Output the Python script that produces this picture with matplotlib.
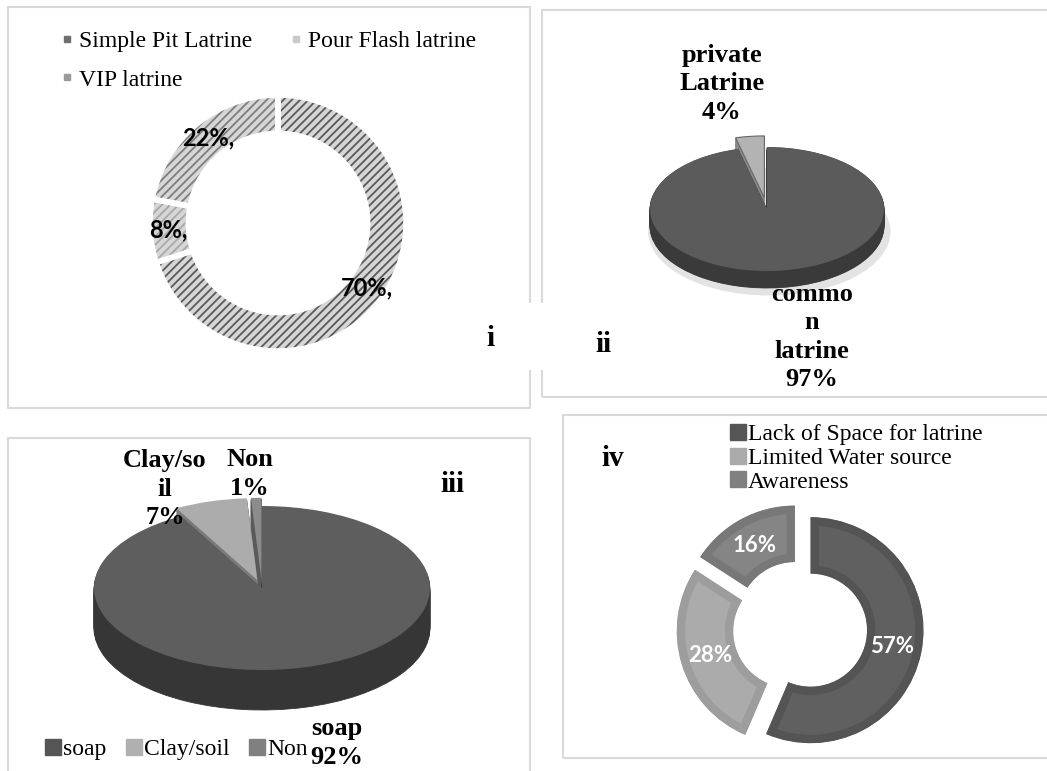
import matplotlib.pyplot as plt
from matplotlib.lines import Line2D
from matplotlib.patches import Rectangle, Ellipse

# survey results, one list per chart
latrine_types = ["Simple Pit Latrine", "Pour Flash latrine", "VIP latrine"]
latrine_share = [70, 8, 22]

ownership_types = ["commo\nn\nlatrine", "private\nLatrine"]
ownership_share = [97, 4]

handwash_types = ["soap", "Clay/soil", "Non"]
handwash_wrapped = ["soap", "Clay/so\nil", "Non"]
handwash_share = [92, 7, 1]

barrier_types = ["Lack of Space for latrine", "Limited Water source", "Awareness"]
barrier_share = [57, 28, 16]

SERIF = "Liberation Serif"
SANS = "Lato"
W, H = 1047, 771

plt.rcParams["hatch.linewidth"] = 1.3

fig = plt.figure(figsize=(W / 100, H / 100), dpi=100)


def fx(px):
    return px / W


def fy(py):
    return 1 - py / H


def pie_axes(cx, cy, rx, ry, hw, hh):
    ax = fig.add_axes([fx(cx - hw), fy(cy + hh), 2 * hw / W, 2 * hh / H])
    ax.axis("off")
    return ax


def fix_limits(ax, rx, ry, hw, hh):
    ax.set_aspect("auto")
    ax.set_xlim(-hw / rx, hw / rx)
    ax.set_ylim(-hh / ry, hh / ry)


def pct_of(values):
    total = sum(values)
    return lambda p: f"{round(p * total / 100)}%"


def panel_box(x0, y0, x1, y1):
    fig.add_artist(Rectangle((fx(x0), fy(y1)), fx(x1) - fx(x0), fy(y0) - fy(y1),
                             transform=fig.transFigure, fill=False,
                             edgecolor="#d9d9d9", linewidth=1.5, zorder=0))


def square(color, size):
    return Line2D([], [], marker="s", linestyle="none", markersize=size,
                  markerfacecolor=color, markeredgecolor=color)


def bold_label(x, y, text):
    fig.text(fx(x), fy(y), text, ha="center", va="center", family=SERIF,
             fontweight="bold", fontsize=19, linespacing=1.3)


def pie3d(ax, values, top_colors, side_colors, explode, thick, layers=24):
    kw = dict(startangle=90, counterclock=False, explode=explode)
    for k in range(layers, 0, -1):
        ax.pie(values, colors=side_colors, center=(0, -thick * k / layers),
               wedgeprops=dict(linewidth=0.6), **kw)
        for w in ax.patches[-len(values):]:
            w.set_edgecolor(w.get_facecolor())
    wedges, _ = ax.pie(values, colors=top_colors, wedgeprops=dict(linewidth=0), **kw)
    return wedges


# panel borders
panel_box(8, 7, 530, 408)
panel_box(542, 10, 1060, 397)
panel_box(8, 438, 530, 800)
panel_box(563, 415, 1060, 758)
fig.add_artist(Rectangle((fx(470), fy(370)), fx(625) - fx(470), fy(303) - fy(370),
                         transform=fig.transFigure, facecolor="white",
                         edgecolor="none", zorder=1))

# ---- i: latrine type donut ----
geo = (278, 223, 128, 128, 150, 140)
ax1 = pie_axes(*geo)
kw = dict(startangle=90, counterclock=False)
_, _, autotexts = ax1.pie(latrine_share, colors=["#d6d6d6"] * 3,
                          wedgeprops=dict(width=0.3, linewidth=0),
                          autopct=lambda p: pct_of(latrine_share)(p) + ",",
                          pctdistance=0.86,
                          textprops=dict(family=SANS, fontweight="bold", fontsize=17),
                          **kw)
hatched, _ = ax1.pie(latrine_share, colors=["none"] * 3,
                     wedgeprops=dict(width=0.3, linewidth=0), **kw)
for w, c in zip(hatched, ["#5a5a5a", "#a8a8a8", "#7e7e7e"]):
    w.set_hatch("////")
    w.set_edgecolor(c)
ax1.pie(latrine_share, colors=["none"] * 3,
        wedgeprops=dict(width=0.3, linewidth=4, edgecolor="white"), **kw)
for t in autotexts:
    t.set_zorder(5)
fix_limits(ax1, *geo[2:])

marker_cols = ["#6e6e6e", "#c9c9c9", "#9a9a9a"]
h1 = [square(c, 5) for c in marker_cols]
order = [0, 2, 1]
fig.legend([h1[i] for i in order], [latrine_types[i] for i in order],
           loc="upper left", bbox_to_anchor=(fx(52), fy(21)), ncol=2,
           frameon=False, prop=dict(family=SERIF, size=17),
           handlelength=0.5, handletextpad=0.25, columnspacing=1.6,
           labelspacing=0.72, borderaxespad=0)

# ---- ii: latrine ownership 3D pie ----
geo = (767, 209, 117, 62, 140, 110)
ax2 = pie_axes(*geo)
thick2 = 17 / 62
ax2.add_patch(Ellipse((0.02, -thick2 - 0.09), 2.06, 2.04, color="#e3e3e3", zorder=0))
top2 = pie3d(ax2, ownership_share, ["#5b5b5b", "#b3b3b3"], ["#3a3a3a", "#8a8a8a"],
             [0, 0.18], thick2)
top2[1].set_edgecolor("#666666")
top2[1].set_linewidth(0.8)
fix_limits(ax2, *geo[2:])

bold_label(722, 84, f"{ownership_types[1]}\n{ownership_share[1]}%")
bold_label(812, 337, f"{ownership_types[0]}\n{ownership_share[0]}%")

# ---- iii: hand washing 3D pie ----
geo = (262, 588, 168, 82, 205, 150)
ax3 = pie_axes(*geo)
pie3d(ax3, handwash_share, ["#5e5e5e", "#acacac", "#8c8c8c"],
      ["#363636", "#7a7a7a", "#5a5a5a"], [0, 0.1, 0.1], 40 / 82)
fix_limits(ax3, *geo[2:])

bold_label(165, 489, f"{handwash_wrapped[1]}\n{handwash_share[1]}%")
bold_label(250, 474, f"{handwash_wrapped[2]}\n{handwash_share[2]}%")
bold_label(337, 743, f"{handwash_wrapped[0]}\n{handwash_share[0]}%")

h3 = [square(c, 11) for c in ["#555555", "#b0b0b0", "#808080"]]
fig.legend(h3, handwash_types, loc="center left", bbox_to_anchor=(fx(36), fy(749)),
           ncol=3, frameon=False, prop=dict(family=SERIF, size=17),
           handlelength=0.6, handletextpad=0.15, columnspacing=0.85,
           borderaxespad=0)

# ---- iv: barriers donut ----
geo = (800, 628, 113, 113, 140, 130)
ax4 = pie_axes(*geo)
wedges4, _, autotexts4 = ax4.pie(barrier_share, colors=["#606060", "#ababab", "#858585"],
                                 explode=[0.095] * 3, startangle=90, counterclock=False,
                                 wedgeprops=dict(width=0.5, linewidth=12),
                                 autopct=pct_of(barrier_share), pctdistance=0.74,
                                 textprops=dict(family=SANS, fontweight="bold",
                                                fontsize=16, color="white"))
for w, b in zip(wedges4, ["#545454", "#9d9d9d", "#787878"]):
    w.set_edgecolor(b)
    w.set_clip_path(w)
    w.set_clip_on(True)
fix_limits(ax4, *geo[2:])

h4 = [square(c, 12) for c in ["#555555", "#aaaaaa", "#808080"]]
fig.legend(h4, barrier_types, loc="upper left", bbox_to_anchor=(fx(721), fy(414)),
           frameon=False, prop=dict(family=SERIF, size=17),
           handlelength=0.6, handletextpad=0.15, labelspacing=0.1,
           borderaxespad=0)

# panel numbers
for label, (x, y) in zip(["i", "ii", "iii", "iv"],
                         [(490, 338), (603, 345), (452, 484), (613, 458)]):
    fig.text(fx(x), fy(y), label, ha="center", va="center", family=SERIF,
             fontweight="bold", fontsize=21, zorder=3)

fig.savefig("out.png", dpi=100)
